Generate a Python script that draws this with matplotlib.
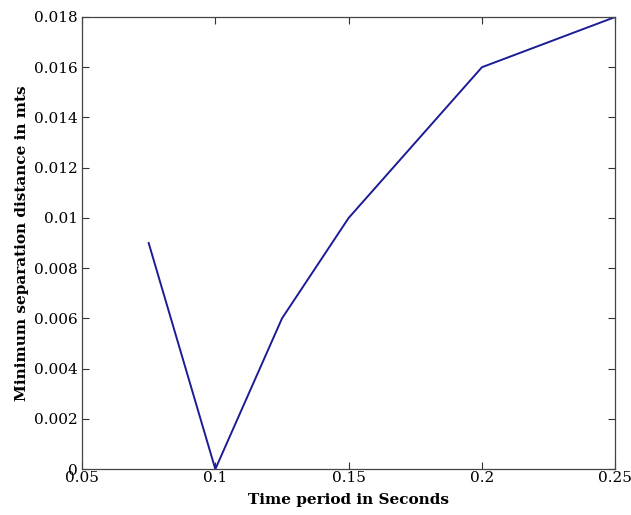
import matplotlib
matplotlib.use("Agg")
import matplotlib.pyplot as plt

# data
time_period = [0.075, 0.1, 0.125, 0.15, 0.2, 0.25]
min_separation = [0.009, 0.0, 0.006, 0.010, 0.016, 0.018]

xticks = [0.05, 0.1, 0.15, 0.2, 0.25]
xticklabels = ['0.05', '0.1', '0.15', '0.2', '0.25']
yticks = [0, 0.002, 0.004, 0.006, 0.008, 0.01, 0.012, 0.014, 0.016, 0.018]
yticklabels = ['0', '0.002', '0.004', '0.006', '0.008', '0.01', '0.012',
               '0.014', '0.016', '0.018']

plt.rcParams['font.family'] = ['DejaVu Serif']

fig = plt.figure(figsize=(6.31, 5.15), dpi=100)
ax = fig.add_axes([0.130, 0.089, 0.845, 0.878])

ax.plot(time_period, min_separation, color='#1c1c96', linewidth=1.4)

ax.set_xlim(0.05, 0.25)
ax.set_ylim(0, 0.018)
ax.set_xticks(xticks)
ax.set_xticklabels(xticklabels)
ax.set_yticks(yticks)
ax.set_yticklabels(yticklabels)
ax.tick_params(direction='in', top=True, right=True, length=5,
               labelsize=11, color='#333333')
ax.tick_params(axis='x', pad=1)
ax.tick_params(axis='y', pad=3)
for s in ax.spines.values():
    s.set_color('#444444')
    s.set_linewidth(0.9)

ax.set_xlabel('Time period in Seconds', fontsize=11, fontweight='bold',
              labelpad=6)
ax.set_ylabel('Minimum separation distance in mts', fontsize=11,
              fontweight='bold', labelpad=4)

fig.savefig('out.png', dpi=100)
